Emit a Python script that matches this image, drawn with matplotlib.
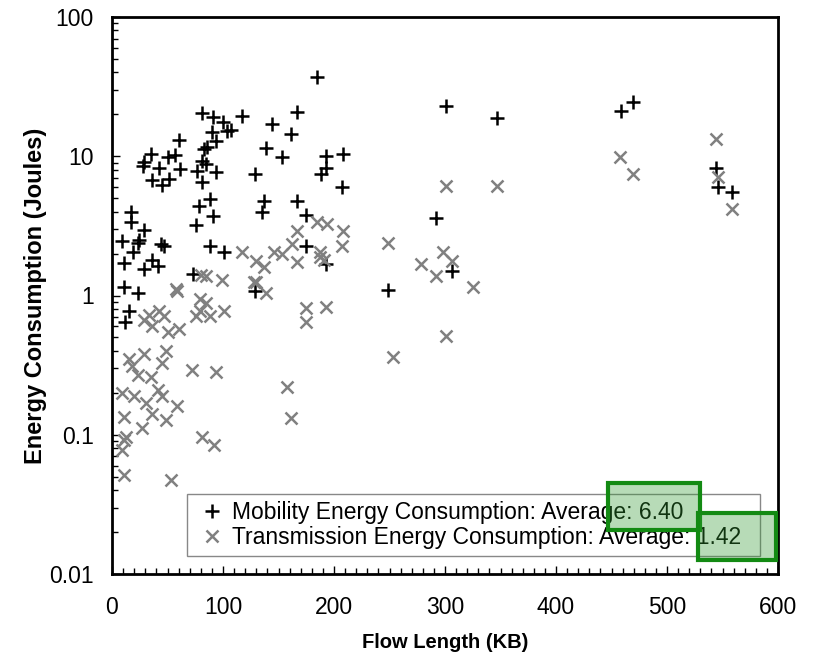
import numpy as np
import matplotlib.pyplot as plt
from matplotlib.patches import Rectangle
from matplotlib.ticker import MultipleLocator, LogLocator, NullFormatter, FixedFormatter, FixedLocator

plt.rcParams['font.family'] = ['Liberation Sans', 'DejaVu Sans']

# Mobility energy (+)
mob_x = [9, 17, 17, 29, 23, 24, 19, 44, 47, 11, 29, 36, 41, 11, 23, 15, 12,
         35, 29, 28, 42, 50, 57, 61, 60, 36, 45, 51,
         81, 91, 100, 104, 90, 94, 83, 86, 81, 85, 77, 94, 81, 78, 88, 76, 91, 73, 88, 101,
         185, 117, 107, 144, 167, 161, 139, 153, 129, 193, 208, 193, 188, 207, 137, 135,
         167, 175, 175, 193, 129,
         301, 347, 292, 306, 249, 469, 459, 544, 546, 559]
mob_y = [2.45, 3.95, 3.35, 2.93, 2.4, 2.5, 2.04, 2.33, 2.25, 1.7, 1.54, 1.79, 1.62, 1.15, 1.05, 0.78, 0.64,
         10.3, 9.1, 8.5, 8.3, 9.8, 10.2, 8.1, 13.0, 6.8, 6.2, 6.9,
         20.4, 19.1, 17.5, 15.1, 14.9, 12.8, 11.2, 11.6, 9.2, 8.8, 7.9, 7.7, 6.5, 4.4, 4.9, 3.2, 3.7, 1.42, 2.25, 2.04,
         37.0, 19.4, 15.4, 17.0, 20.7, 14.4, 11.4, 9.8, 7.4, 10.0, 10.3, 8.3, 7.5, 6.0, 4.8, 3.95,
         4.8, 3.8, 2.25, 1.67, 1.07,
         23.0, 18.8, 3.6, 1.5, 1.09, 24.5, 21.0, 8.3, 6.0, 5.5]

# Transmission energy (x)
tx_x = [33, 42, 29, 36, 47, 50, 60, 79, 85, 88, 101, 76, 59,
        15, 18, 29, 49, 45, 23, 35, 72, 94,
        9, 20, 31, 41, 45, 59, 11, 36, 49, 27, 13, 11, 9, 81, 92, 11, 53,
        80, 85, 58, 99, 79, 130, 139, 187, 175, 175, 193, 158, 161,
        167, 185, 194, 208, 207, 117, 130, 137, 146, 153, 162, 167, 187, 191, 128,
        301, 347, 249, 298, 306, 278, 292, 325, 301, 253,
        458, 469, 544, 546, 559]
tx_y = [0.73, 0.77, 0.67, 0.60, 0.71, 0.55, 0.57, 0.77, 0.89, 0.71, 0.77, 0.71, 1.07,
        0.35, 0.31, 0.38, 0.40, 0.33, 0.27, 0.26, 0.29, 0.28,
        0.20, 0.19, 0.17, 0.21, 0.19, 0.16, 0.135, 0.14, 0.128, 0.112, 0.097, 0.092, 0.078, 0.097, 0.085, 0.051, 0.047,
        1.41, 1.37, 1.12, 1.30, 0.94, 1.26, 1.05, 1.9, 0.82, 0.64, 0.83, 0.22, 0.133,
        2.9, 3.35, 3.25, 2.9, 2.25, 2.04, 1.76, 1.59, 2.07, 1.97, 2.33, 1.73, 2.04, 1.81, 1.26,
        6.1, 6.1, 2.4, 2.07, 1.76, 1.67, 1.39, 1.16, 0.51, 0.36,
        9.9, 7.4, 13.2, 7.1, 4.2]

mob_avg = 6.40
tx_avg = 1.42

fig = plt.figure(figsize=(8.14, 6.57), dpi=100)
ax = fig.add_axes([112/814, 1-574/657, 666/814, 557/657])

ax.plot(mob_x, mob_y, linestyle='none', marker='+', color='black', ms=10, mew=1.8,
        label="Mobility Energy Consumption: Average: %.2f" % mob_avg)
ax.plot(tx_x, tx_y, linestyle='none', marker='x', color='#808080', ms=8, mew=1.8,
        label="Transmission Energy Consumption: Average: %.2f" % tx_avg)

ax.set_yscale('log')
ax.set_xlim(0, 600)
ax.set_ylim(0.01, 100)
ax.xaxis.set_major_locator(MultipleLocator(100))
ax.xaxis.set_minor_locator(MultipleLocator(10))
ax.yaxis.set_major_locator(FixedLocator([0.01, 0.1, 1, 10, 100]))
ax.yaxis.set_major_formatter(FixedFormatter(['0.01', '0.1', '1', '10', '100']))
ax.yaxis.set_minor_locator(LogLocator(base=10, subs=np.arange(2, 10)))
ax.yaxis.set_minor_formatter(NullFormatter())
ax.tick_params(which='both', direction='in', top=False, right=False, labelsize=16.5, width=1)
ax.tick_params(which='major', length=6)
ax.tick_params(which='minor', length=4)
ax.tick_params(axis='x', pad=16)
ax.tick_params(axis='y', pad=13)
for s in ax.spines.values():
    s.set_linewidth(2)

ax.set_xlabel("Flow Length (KB)", fontsize=14.5, fontweight='bold', labelpad=10)
ax.set_ylabel("Energy Consumption (Joules)", fontsize=17, fontweight='bold', labelpad=2)

leg = ax.legend(loc='lower left', bbox_to_anchor=(75/666, 18/557, 573/666, 65/557), mode='expand',
                borderaxespad=0, fontsize=16.5, handlelength=1.6, handletextpad=0.05, borderpad=0.3,
                labelspacing=0.1, fancybox=False, framealpha=1)
leg.get_frame().set_edgecolor('#888888')
leg.get_frame().set_linewidth(1)

# highlight boxes over the averages
for (x0, y0, x1, y1) in [(608, 483, 700, 530), (698, 513, 776, 560)]:
    fig.patches.append(Rectangle((x0/814, 1-y1/657), (x1-x0)/814, (y1-y0)/657,
                                 transform=fig.transFigure, facecolor=(0.2, 0.6, 0.2, 0.35),
                                 edgecolor='#138a13', linewidth=3, zorder=10))

fig.savefig("out.png", dpi=100)
